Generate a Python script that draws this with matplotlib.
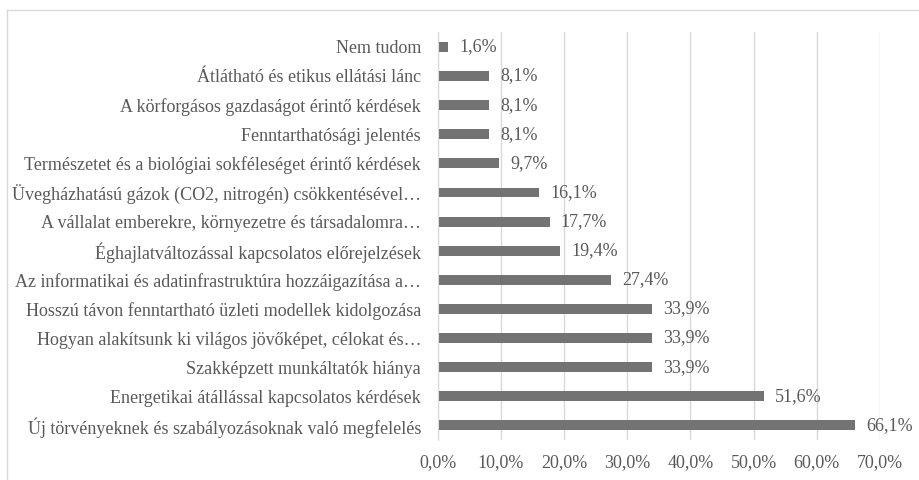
import matplotlib
matplotlib.use("Agg")
import matplotlib.pyplot as plt
from matplotlib.lines import Line2D
from matplotlib.ticker import FuncFormatter, MultipleLocator

categories = [
    "Új törvényeknek és szabályozásoknak való megfelelés",
    "Energetikai átállással kapcsolatos kérdések",
    "Szakképzett munkáltatók hiánya",
    "Hogyan alakítsunk ki világos jövőképet, célokat és…",
    "Hosszú távon fenntartható üzleti modellek kidolgozása",
    "Az informatikai és adatinfrastruktúra hozzáigazítása a…",
    "Éghajlatváltozással kapcsolatos előrejelzések",
    "A vállalat emberekre, környezetre és társadalomra…",
    "Üvegházhatású gázok (CO2, nitrogén) csökkentésével…",
    "Természetet és a biológiai sokféleséget érintő kérdések",
    "Fenntarthatósági jelentés",
    "A körforgásos gazdaságot érintő kérdések",
    "Átlátható és etikus ellátási lánc",
    "Nem tudom",
]
values = [66.1, 51.6, 33.9, 33.9, 33.9, 27.4, 19.4, 17.7, 16.1, 9.7, 8.1, 8.1, 8.1, 1.6]

plt.rcParams['font.family'] = ['Liberation Serif', 'DejaVu Serif']
text_color = "#595959"
bar_color = "#737373"
grid_color = "#d9d9d9"
fs = 13

fig = plt.figure(figsize=(9.19, 4.8), dpi=100)
ax = fig.add_axes([437.7 / 919, 1 - 440 / 480, (880 - 437.7) / 919, (440 - 32.3) / 480])

ypos = list(range(len(categories)))
ax.barh(ypos, values, height=0.34, color=bar_color, zorder=3)
ax.set_ylim(-0.5, len(categories) - 0.5)
ax.set_xlim(0, 70)
ax.xaxis.set_major_locator(MultipleLocator(10))
ax.xaxis.set_major_formatter(FuncFormatter(lambda v, p: f"{v:.1f}%".replace(".", ",")))
ax.set_yticks(ypos)
ax.set_yticklabels(categories)
ax.tick_params(axis='both', length=0, labelsize=fs, colors=text_color)
ax.tick_params(axis='y', pad=12)
ax.tick_params(axis='x', pad=10)
ax.grid(axis='x', color=grid_color, linewidth=1, zorder=0)
for s in ['top', 'right', 'bottom']:
    ax.spines[s].set_visible(False)
ax.spines['left'].set_color(grid_color)
ax.spines['left'].set_zorder(4)

for y, v in zip(ypos, values):
    ax.annotate(f"{v:.1f}%".replace(".", ","), (v, y), xytext=(8, 0),
                textcoords='offset points', va='center', ha='left',
                fontsize=fs, color=text_color)

# outer chart border (top and left visible)
fig.add_artist(Line2D([6.5 / 919, 1], [1 - 10 / 480, 1 - 10 / 480],
                      transform=fig.transFigure, color=grid_color, linewidth=1))
fig.add_artist(Line2D([6.5 / 919, 6.5 / 919], [0, 1 - 10 / 480],
                      transform=fig.transFigure, color=grid_color, linewidth=1))

fig.savefig("out.png", dpi=100, facecolor="white")
